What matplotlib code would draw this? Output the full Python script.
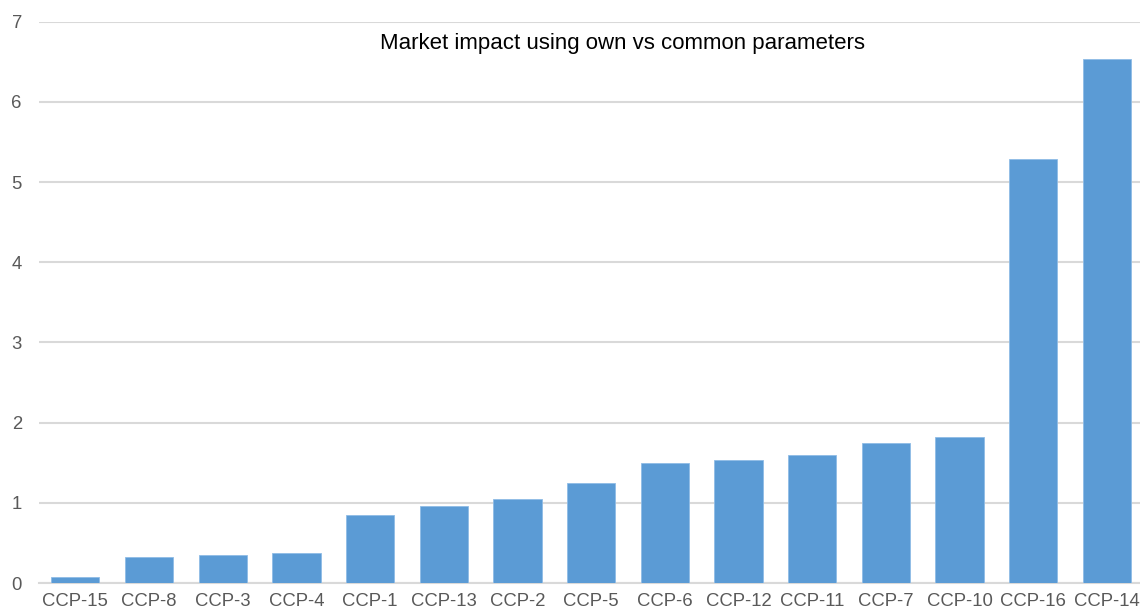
import numpy as np
import matplotlib.pyplot as plt

categories = ['CCP-15', 'CCP-8', 'CCP-3', 'CCP-4', 'CCP-1', 'CCP-13', 'CCP-2', 'CCP-5',
              'CCP-6', 'CCP-12', 'CCP-11', 'CCP-7', 'CCP-10', 'CCP-16', 'CCP-14']
values = [0.08, 0.33, 0.35, 0.38, 0.85, 0.96, 1.05, 1.25,
          1.50, 1.53, 1.60, 1.74, 1.82, 5.29, 6.54]
yticks = [0, 1, 2, 3, 4, 5, 6, 7]

plt.rcParams['font.family'] = ['Liberation Sans', 'DejaVu Sans']

fig = plt.figure(figsize=(11.4, 6.08), dpi=100)
ax = fig.add_axes([38.5 / 1140, 25 / 608, 1105.3 / 1140, 561.3 / 608])

x = np.arange(len(categories))
ax.bar(x, values, width=0.655, color='#5B9BD5', edgecolor='#8FBCE6', linewidth=0.6, zorder=3)

ax.set_xlim(-0.5, len(categories) - 0.5)
ax.set_ylim(0, 7)
ax.set_yticks(yticks)
ax.set_xticks(x)
ax.set_xticklabels(categories)
ax.yaxis.grid(True, color='#D9D9D9', linewidth=1.5, zorder=0)
ax.set_axisbelow(True)
for s in ['top', 'right', 'left']:
    ax.spines[s].set_visible(False)
ax.spines['bottom'].set_color('#D9D9D9')
ax.spines['bottom'].set_linewidth(1.5)
ax.tick_params(axis='both', length=0, labelsize=13.3, colors='#595959')
ax.tick_params(axis='x', pad=7)
ax.tick_params(axis='y', pad=12)

fig.text(622 / 1140, 1 - 44 / 608, 'Market impact using own vs common parameters',
         ha='center', va='center', fontsize=16, color='black')

plt.savefig('out.png', dpi=100)
